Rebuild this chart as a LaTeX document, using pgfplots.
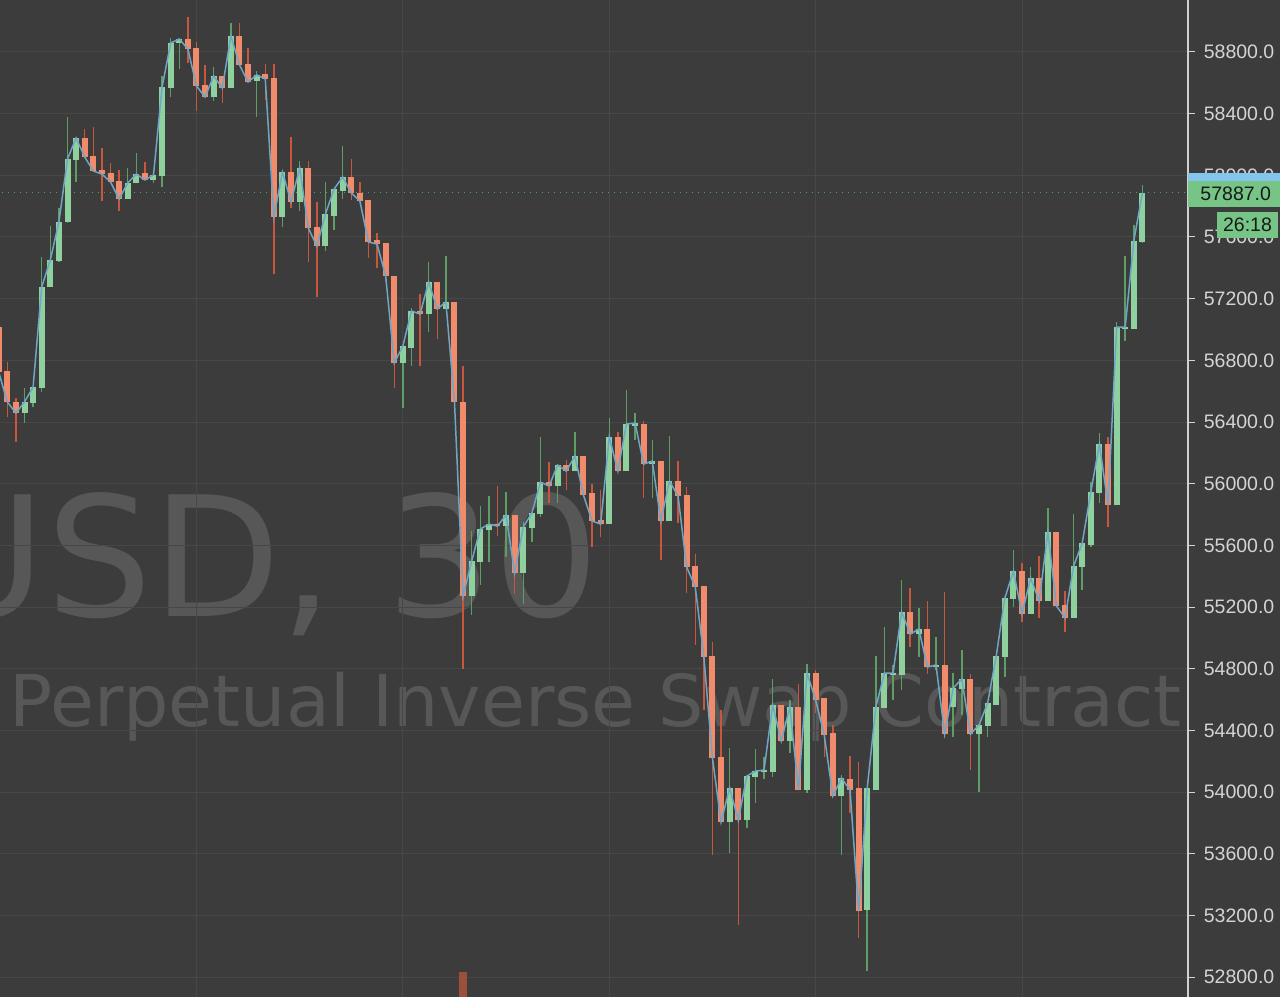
\documentclass[border=0pt]{standalone}
\usepackage{fontspec}
\setmainfont{Liberation Sans}
\newfontfamily\wmfont{DejaVu Sans}
\usepackage{pgfplots}
\usepackage{pgfplotstable}
\pgfplotsset{compat=1.18}

\definecolor{bg}{HTML}{3C3C3C}
\definecolor{gridc}{HTML}{474747}
\definecolor{wm}{HTML}{575757}
\definecolor{gbody}{HTML}{8FD19E}
\definecolor{gwick}{HTML}{5E9E64}
\definecolor{rbody}{HTML}{F08C6C}
\definecolor{rwick}{HTML}{C9573E}
\definecolor{maline}{HTML}{6EA6C8}
\definecolor{dotg}{HTML}{4FA561}
\definecolor{sepc}{HTML}{D0D0D0}
\definecolor{lbl}{HTML}{D4D4D4}
\definecolor{boxgreen}{HTML}{77C487}
\definecolor{boxblue}{HTML}{84C5EE}
\definecolor{vol}{HTML}{9C4F3B}

% k open high low close (30 min candles)
\pgfplotstableread{
k o h l c
-1 57016 57061 56672 56724
0 56731 56789 56432 56530
1 56530 56556 56270 56458
2 56458 56620 56393 56530
3 56523 56627 56497 56627
4 56620 57470 56595 57276
5 57276 57671 57276 57451
6 57444 57788 57438 57697
7 57697 58378 57691 58106
8 58099 58242 57957 58242
9 58242 58300 58112 58119
10 58125 58313 58028 58028
11 58034 58177 57833 58008
12 58015 58080 57957 57957
13 57963 58034 57768 57846
14 57846 58047 57846 57950
15 57950 58145 57950 58008
16 58015 58086 57970 57970
17 57970 58034 57950 58002
18 57995 58644 57924 58573
19 58566 58891 58508 58858
20 58858 58884 58689 58884
21 58884 59027 58728 58819
22 58826 58865 58417 58579
23 58586 58715 58508 58508
24 58508 58702 58482 58644
25 58644 58644 58469 58566
26 58566 58988 58566 58904
27 58904 58988 58715 58715
28 58722 58826 58605 58605
29 58612 58676 58378 58651
30 58657 58722 58488 58625
31 58631 58722 57360 57730
32 57730 58021 57665 58021
33 58021 58248 57788 57827
34 57827 58093 57768 58047
35 58047 58093 57438 57658
36 57665 57827 57211 57541
37 57541 57957 57509 57749
38 57736 57911 57645 57911
39 57898 58190 57846 57989
40 57989 58106 57840 57885
41 57885 57957 57833 57833
42 57840 57840 57464 57567
43 57580 57626 57399 57554
44 57561 57561 57308 57347
45 57347 57347 56620 56783
46 56783 56893 56491 56893
47 56880 57139 56763 57120
48 57120 57230 56763 57100
49 57100 57438 56984 57308
50 57308 57308 56938 57133
51 57133 57477 57133 57178
52 57178 57178 56530 56530
53 56530 56763 54798 55271
54 55271 55693 55148 55498
55 55492 55855 55343 55706
56 55699 55920 55492 55738
57 55738 55985 55660 55725
58 55725 55946 55524 55797
59 55797 55797 55284 55420
60 55420 55751 55219 55719
61 55712 55810 55622 55810
62 55803 56303 55784 56010
63 56010 56140 55874 55985
64 55985 56121 55874 56121
65 56121 56153 55959 56082
66 56082 56335 56082 56179
67 56179 56179 55926 55926
68 55939 55998 55589 55758
69 55764 55959 55654 55738
70 55738 56426 55738 56303
71 56303 56335 56082 56082
72 56082 56608 56082 56387
73 56374 56458 56283 56393
74 56387 56406 55907 56127
75 56127 56283 55907 56147
76 56147 56147 55505 55758
77 55758 56309 55758 56017
78 56017 56147 55745 55920
79 55926 55978 55291 55459
80 55466 55544 54954 55330
81 55336 55336 54532 54876
82 54882 54973 53591 54221
83 54227 54532 53805 53805
84 53805 54286 53604 54026
85 54026 54026 53138 53818
86 53818 54104 53767 54104
87 54097 54279 53929 54136
88 54130 54227 54084 54143
89 54130 54733 54097 54564
90 54564 54564 54331 54331
91 54331 54597 54253 54551
92 54551 54701 54013 54013
93 54013 54830 53994 54772
94 54772 54791 54513 54597
95 54610 54610 54227 54370
96 54383 54435 53974 53974
97 53974 54110 53591 54091
98 54084 54234 53864 54013
99 54026 54195 53053 53228
100 53235 54026 52839 54026
101 54013 54882 54013 54551
102 54545 55070 54545 54772
103 54759 54824 54597 54772
104 54759 55375 54662 55168
105 55168 55323 54941 55025
106 55025 55194 54876 55057
107 55057 55239 54765 54811
108 54811 55005 54791 54824
109 54824 55297 54376 54376
110 54551 54772 54357 54675
111 54668 54921 54500 54733
112 54733 54765 54143 54376
113 54376 54435 54000 54435
114 54428 54577 54357 54577
115 54564 54882 54564 54882
116 54876 55258 54746 55258
117 55252 55570 55200 55433
118 55433 55485 55103 55155
119 55155 55459 55155 55388
120 55388 55531 55129 55239
121 55239 55842 55239 55686
122 55686 55686 55200 55207
123 55213 55304 55038 55129
124 55129 55803 55129 55466
125 55459 55615 55310 55615
126 55602 56010 55589 55946
127 55939 56329 55874 56257
128 56257 56303 55719 55861
129 55861 57049 55861 57016
130 57003 57477 56925 57016
131 57003 57678 57003 57574
132 57567 57937 57561 57887
}\candles

\pgfplotsset{
  candle/.style n args={2}{draw=none, mark=none, forget plot,
    error bars/.cd, y dir=plus, y explicit, error mark=none,
    error bar style={draw=#1, line width=#2}},
}

\begin{document}
\begin{tikzpicture}
% background and watermark, in screen pixels (0.4pt each)
\begin{scope}[x=0.4pt,y=-0.4pt,shift={(0pt,398.8pt)}]
  \fill[bg] (0,0) rectangle (1280,997);
  \node[anchor=base east, inner sep=0, text=wm, font=\wmfont\fontsize{66.8}{70}\selectfont] at (600,617) {XBTUSD, 30};
  \node[anchor=base west, inner sep=0, text=wm, font=\wmfont\fontsize{28.6}{30}\selectfont] at (9,727) {Perpetual Inverse Swap Contract};
\end{scope}

\begin{axis}[
  at={(0pt,0pt)}, anchor=south west,
  width=475.2pt, height=398.8pt, scale only axis,
  xmin=-0.85, xmax=137.3, ymin=52671, ymax=59137,
  axis line style={draw=none},
  xtick={22,46,70,94,118}, xticklabels={}, xtick style={draw=none},
  ytick={52800,53200,...,58800},
  ytick pos=right, yticklabel pos=right, tick align=outside,
  major tick length=2.8pt,
  ytick style={draw=lbl, line width=0.4pt},
  grid=major, major grid style={draw=gridc, line width=0.4pt},
  scaled y ticks=false,
  /pgf/number format/assume math mode=true,
  yticklabel style={font=\fontsize{7.8}{9}\selectfont, text=lbl,
    /pgf/number format/.cd, fixed, fixed zerofill, precision=1, 1000 sep={}},
]
% last price line
\addplot[dotg, dotted, line width=0.4pt] coordinates {(-2,57887) (140,57887)};
% volume bar peeking from the bottom
\addplot[ybar, bar width=3.2pt, fill=vol, draw=none] coordinates {(53,52833)};

% wicks
\addplot[candle={gwick}{0.6pt}]
  table[x=k, y expr={\thisrow{c}>\thisrow{o} ? \thisrow{l} : nan},
        y error plus expr={\thisrow{h}-\thisrow{l}}] {\candles};
\addplot[candle={rwick}{0.6pt}]
  table[x=k, y expr={\thisrow{c}<\thisrow{o} ? \thisrow{l} : nan},
        y error plus expr={\thisrow{h}-\thisrow{l}}] {\candles};
% bodies
\addplot[candle={gbody}{2.4pt}]
  table[x=k, y expr={\thisrow{c}>\thisrow{o} ? \thisrow{o} : nan},
        y error plus expr={\thisrow{c}-\thisrow{o}}] {\candles};
\addplot[candle={rbody}{2.4pt}]
  table[x=k, y expr={\thisrow{c}<\thisrow{o} ? \thisrow{c} : nan},
        y error plus expr={\thisrow{o}-\thisrow{c}}] {\candles};

% close line
\addplot[maline, line width=0.6pt, mark=none] table[x=k, y=c] {\candles};
\end{axis}

% price scale decorations
\begin{scope}[x=0.4pt,y=-0.4pt,shift={(0pt,398.8pt)}]
  \draw[sepc, line width=0.8pt] (1188,0) -- (1188,997);
  \fill[boxblue] (1188,173) rectangle (1280,181);
  \fill[boxgreen] (1188,181) rectangle (1280,207);
  \node[anchor=west, inner sep=0, text=black!90, font=\fontsize{7.8}{9}\selectfont] at (1200,194) {57887.0};
  \fill[boxgreen] (1217,212) rectangle (1278,238);
  \node[inner sep=0, text=black!90, font=\fontsize{7.8}{9}\selectfont] at (1247.5,225) {26:18};
\end{scope}
\pgfresetboundingbox
\path[use as bounding box] (0,0) rectangle (512pt,398.8pt);
\end{tikzpicture}
\end{document}
